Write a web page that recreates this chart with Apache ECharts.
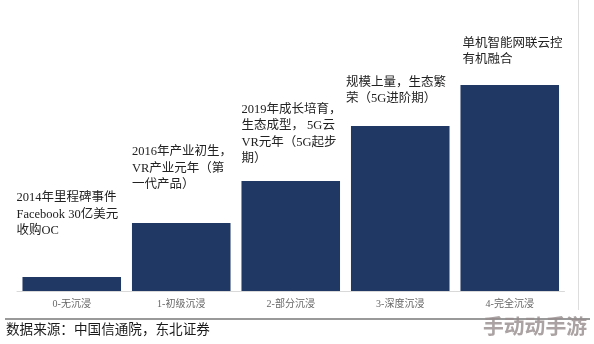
<!DOCTYPE html>
<html>
<head>
<meta charset="utf-8">
<script src="https://cdn.jsdelivr.net/npm/echarts@6/dist/echarts.min.js"></script>
<style>html,body{margin:0;padding:0;background:#fff;}#c{width:594px;height:344px;}</style>
</head>
<body>
<div id="c"></div>
<script>
const categories = ['0-无沉浸', '1-初级沉浸', '2-部分沉浸', '3-深度沉浸', '4-完全沉浸'];
const values = [1.4, 6.8, 11.0, 16.5, 20.6];
const annotations = [
  '2014年里程碑事件\nFacebook 30亿美元\n收购OC',
  '2016年产业初生，\nVR产业元年（第\n一代产品）',
  '2019年成长培育，\n生态成型， 5G云\nVR元年（5G起步\n期）',
  '规模上量，生态繁\n荣（5G进阶期）',
  '单机智能网联云控\n有机融合'
];
const sourceText = '数据来源：中国信通院，东北证券';
const watermark = '手动动手游';

// label placement relative to each bar's top-left corner (layout only)
const labelPos = [[-6, -38], [0, -30], [0, -14], [-5, -19], [2, -17]];

const serif = '"Liberation Serif", "DejaVu Serif", "Noto Sans CJK SC", serif';

const chart = echarts.init(document.getElementById('c'), null, {renderer: 'canvas'});
chart.setOption({
  animation: false,
  backgroundColor: '#ffffff',
  grid: {left: 17, right: 29.5, top: 0, bottom: 53},
  xAxis: {
    type: 'category',
    data: categories,
    axisLine: {lineStyle: {color: '#d9d9d9', width: 1}},
    axisTick: {show: false},
    axisLabel: {color: '#666', fontSize: 10, fontFamily: serif, margin: 8}
  },
  yAxis: {
    type: 'value', min: 0, max: 29.1,
    show: false, splitLine: {show: false}
  },
  series: [{
    type: 'bar',
    barCategoryGap: '10%',
    itemStyle: {color: '#203864'},
    data: values.map((v, i) => ({
      value: v,
      label: {
        show: true,
        position: labelPos[i],
        align: 'left',
        verticalAlign: 'bottom',
        formatter: () => annotations[i],
        color: '#222',
        fontSize: 12.5,
        lineHeight: 16.5,
        fontFamily: serif
      }
    }))
  }],
  graphic: [
    {type: 'line', shape: {x1: 578.5, y1: 0, x2: 578.5, y2: 310}, style: {stroke: '#dddddd', lineWidth: 1}},
    {type: 'line', shape: {x1: 5, y1: 319, x2: 590, y2: 319}, style: {stroke: '#999999', lineWidth: 2}},
    {type: 'text', left: 6, top: 324, style: {text: sourceText, fill: '#1a1a1a', font: '13.6px ' + serif}},
    {type: 'text', left: 483, top: 316, style: {text: watermark, fill: 'rgba(150,140,140,0.8)', font: 'bold 20.8px "Noto Sans CJK SC", sans-serif'}}
  ]
});
</script>
</body>
</html>
